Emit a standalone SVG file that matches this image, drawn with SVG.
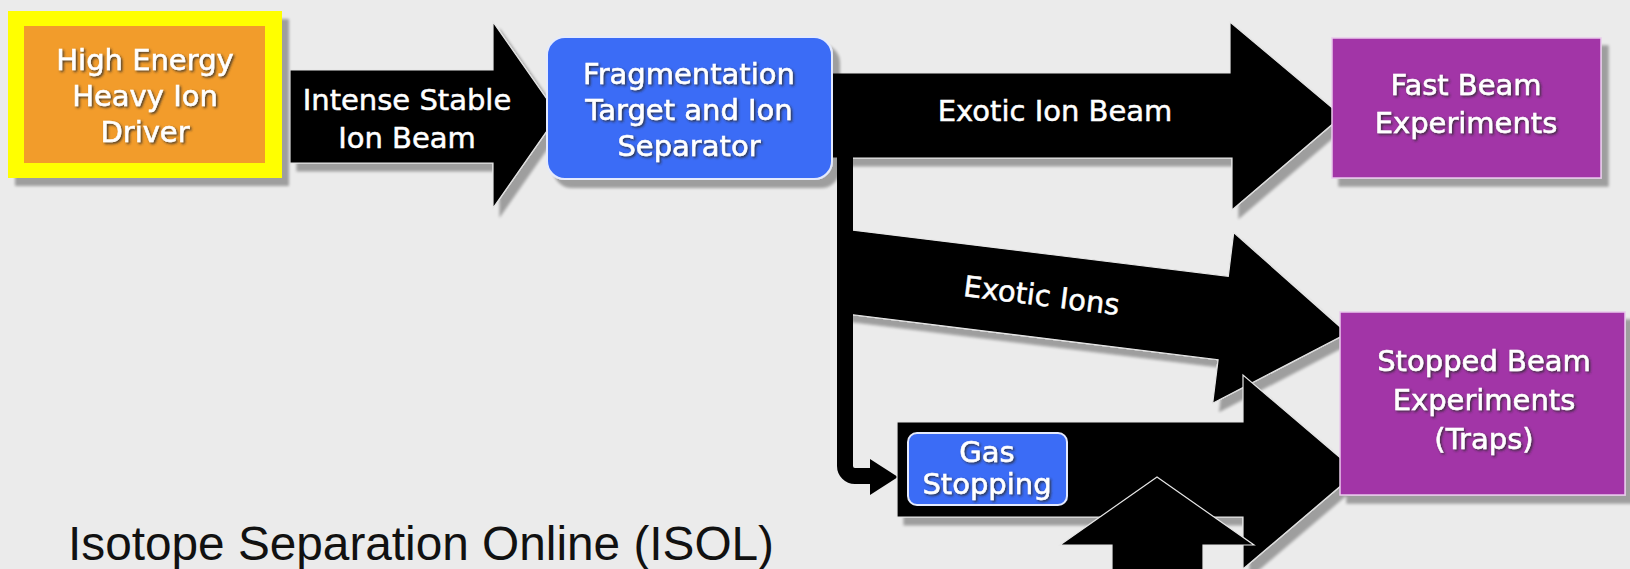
<svg xmlns="http://www.w3.org/2000/svg" width="1630" height="569" viewBox="0 0 1630 569">
<defs>
<filter id="sh" x="-10%" y="-10%" width="130%" height="130%">
<feGaussianBlur in="SourceAlpha" stdDeviation="1.5"/>
<feOffset dx="7" dy="8" result="o"/>
<feComponentTransfer><feFuncA type="linear" slope="0.33"/></feComponentTransfer>
<feMerge><feMergeNode/><feMergeNode in="SourceGraphic"/></feMerge>
</filter>
<filter id="shs" x="-10%" y="-10%" width="130%" height="130%">
<feGaussianBlur in="SourceAlpha" stdDeviation="1"/>
<feOffset dx="4" dy="5" result="o"/>
<feComponentTransfer><feFuncA type="linear" slope="0.33"/></feComponentTransfer>
<feMerge><feMergeNode/><feMergeNode in="SourceGraphic"/></feMerge>
</filter>
<filter id="ts" x="-10%" y="-20%" width="120%" height="150%">
<feDropShadow dx="1.5" dy="1.5" stdDeviation="0.8" flood-color="#2a2a2a" flood-opacity="0.85"/>
</filter>
<style>
.lbl{font-family:"DejaVu Sans","Verdana",sans-serif;font-size:29px;fill:#ffffff;stroke:#ffffff;stroke-width:0.5px;text-anchor:middle}
.arr{fill:#000000;stroke:#e6e6e6;stroke-width:1.2}
.blue{fill:#3b6cf6;stroke:#e4eafd;stroke-width:2}
.purp{fill:#a236a7;stroke:#e9c9ec;stroke-width:1.5}
</style>
</defs>
<rect x="0" y="0" width="1630" height="569" fill="#ebebeb"/>

<g id="connectors">
<g id="c-intense" filter="url(#sh)">
<polygon class="arr" points="290,70 493,70 493,22 558,115 493,208 493,163 290,163"/>
</g>
<text class="lbl" x="407" y="110">Intense Stable</text>
<text class="lbl" x="407" y="148">Ion Beam</text>

<g id="c-exotic-beam" filter="url(#sh)">
<polygon class="arr" points="832,73 1230,73 1230,22 1342,116 1232,210 1232,158 832,158"/>
</g>
<text class="lbl" x="1055" y="121">Exotic Ion Beam</text>

<g id="c-exotic-ions">
<g filter="url(#sh)">
<polygon class="arr" points="845,229.2 1228.3,276.3 1233.7,232.6 1347.3,333.2 1212.7,403.3 1218.1,359.7 845,313.8"/>
</g>
<text class="lbl" font-size="28" transform="translate(853,272.5) rotate(7)" x="190" y="10">Exotic Ions</text>
</g>

<g id="c-branch">
<path d="M845,150 V466 A10,10 0 0 0 855,476 H874" fill="none" stroke="#000" stroke-width="16"/>
<polygon points="870,459 898,477 870,495" fill="#000"/>
</g>

<g id="c-gas" filter="url(#sh)">
<polygon class="arr" points="897,422 1243,422 1243,375 1357,472 1243,569 1243,517 897,517"/>
</g>

<g id="c-up">
<polygon class="arr" points="1112,580 1112,545 1060,545 1157,477 1254,545 1203,545 1203,580"/>
</g>
</g>

<g id="driver">
<rect x="8" y="11" width="274" height="167" fill="#ffff00" filter="url(#sh)"/>
<rect x="24" y="26" width="241" height="137" fill="#f29c2b"/>
<g filter="url(#ts)">
<text class="lbl" x="145" y="70">High Energy</text>
<text class="lbl" x="145" y="106">Heavy Ion</text>
<text class="lbl" x="145" y="142">Driver</text>
</g>
</g>

<g id="frag">
<rect class="blue" x="547" y="37" width="285" height="142" rx="18" filter="url(#sh)"/>
<g filter="url(#ts)">
<text class="lbl" x="689" y="84">Fragmentation</text>
<text class="lbl" x="689" y="120">Target and Ion</text>
<text class="lbl" x="689" y="156">Separator</text>
</g>
</g>

<g id="fast">
<rect class="purp" x="1332" y="38" width="269" height="140" filter="url(#sh)"/>
<g filter="url(#ts)">
<text class="lbl" x="1466" y="95">Fast Beam</text>
<text class="lbl" x="1466" y="133">Experiments</text>
</g>
</g>

<g id="stopped">
<rect class="purp" x="1340" y="312" width="285" height="183" filter="url(#sh)"/>
<g filter="url(#ts)">
<text class="lbl" x="1484" y="371">Stopped Beam</text>
<text class="lbl" x="1484" y="410">Experiments</text>
<text class="lbl" x="1484" y="449">(Traps)</text>
</g>
</g>

<g id="gas">
<rect class="blue" x="908" y="433" width="159" height="72" rx="9" filter="url(#shs)"/>
<g filter="url(#ts)">
<text class="lbl" x="987" y="462" font-size="21">Gas</text>
<text class="lbl" x="987" y="494" font-size="21">Stopping</text>
</g>
</g>

<text id="title" x="68" y="560" font-family="'Liberation Sans',Arial,sans-serif" font-size="48" textLength="706" lengthAdjust="spacingAndGlyphs" fill="#111111">Isotope Separation Online (ISOL)</text>
</svg>
